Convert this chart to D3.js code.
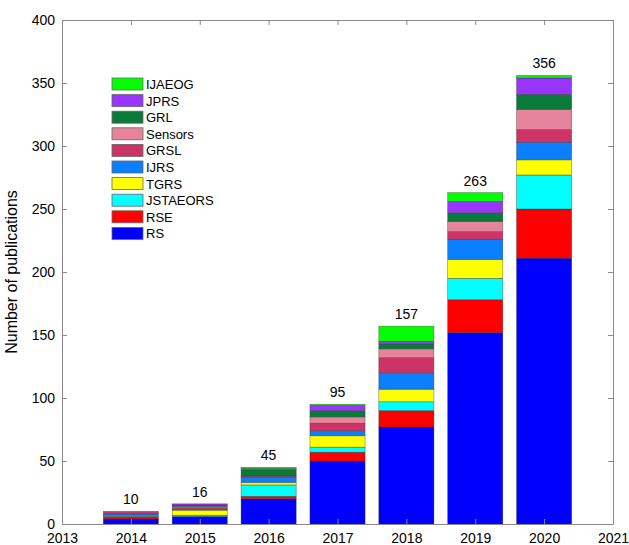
<!DOCTYPE html>
<meta charset="utf-8">
<style>
body { margin: 0; background: #fff; }
text { font-family: "Liberation Sans", Arial, sans-serif; }
</style>
<body>
<script src="https://cdn.jsdelivr.net/npm/d3@7/dist/d3.min.js"></script>
<script>
// data
var years = [2014, 2015, 2016, 2017, 2018, 2019, 2020];
var journals = ["RS", "RSE", "JSTAEORS", "TGRS", "IJRS", "GRSL", "Sensors", "GRL", "JPRS", "IJAEOG"];
var colors = ["#0000ff", "#ff0000", "#00ffff", "#ffff00", "#0a7fff", "#cc3366", "#e6849b", "#0a7a3a", "#9a35ff", "#00ff00"];
var RS       = [4, 6, 20, 50, 77, 152, 211];
var RSE      = [2, 0, 2, 7, 13, 26, 39];
var JSTAEORS = [1, 1, 9, 4, 7, 17, 27];
var TGRS     = [0, 4, 2, 9, 10, 15, 12];
var IJRS     = [1, 1, 4, 4, 13, 16, 14];
var GRSL     = [2, 1, 1, 6, 12, 6, 10];
var Sensors  = [0, 1, 0, 5, 7, 8, 16];
var GRL      = [0, 1, 5, 5, 4, 7, 12];
var JPRS     = [0, 1, 1, 4, 2, 9, 13];
var IJAEOG   = [0, 0, 1, 1, 12, 7, 2];
var series = [RS, RSE, JSTAEORS, TGRS, IJRS, GRSL, Sensors, GRL, JPRS, IJAEOG];
var totals = [10, 16, 45, 95, 157, 263, 356];
var xTicks = [2013, 2014, 2015, 2016, 2017, 2018, 2019, 2020, 2021];
var yTicks = [0, 50, 100, 150, 200, 250, 300, 350, 400];

var margin = {top: 20, right: 16, bottom: 21, left: 62},
    width = 629 - margin.left - margin.right,
    height = 545 - margin.top - margin.bottom;

var x = d3.scaleLinear().domain([2013, 2021]).range([0, width]);
var y = d3.scaleLinear().domain([0, 400]).range([height, 0]);
var barW = (x(2014) - x(2013)) * 0.8;

var table = years.map(function(yr, i) {
  var row = {year: yr};
  journals.forEach(function(j, k) { row[j] = series[k][i]; });
  return row;
});
var stacked = d3.stack().keys(journals)(table);

var svg = d3.select("body").append("svg")
    .attr("width", 629)
    .attr("height", 545)
  .append("g")
    .attr("transform", "translate(" + margin.left + "," + margin.top + ")");

// bars
svg.selectAll(".layer")
    .data(stacked)
  .enter().append("g")
    .attr("fill", function(d, i) { return colors[i]; })
  .selectAll("rect")
    .data(function(d) { return d; })
  .enter().append("rect")
    .attr("x", function(d) { return x(d.data.year) - barW / 2; })
    .attr("width", barW)
    .attr("y", function(d) { return y(d[1]); })
    .attr("height", function(d) { return y(d[0]) - y(d[1]); })
    .attr("stroke", "#333")
    .attr("stroke-opacity", 0.6)
    .attr("stroke-width", 0.6);

// totals
svg.selectAll(".total")
    .data(years)
  .enter().append("text")
    .attr("x", function(d) { return x(d); })
    .attr("y", function(d, i) { return y(totals[i]) - 7; })
    .attr("text-anchor", "middle")
    .style("font-size", "14px")
    .text(function(d, i) { return totals[i]; });

// axes with inward ticks, box on
var axisCol = "#8a8a8a";
var axBottom = svg.append("g")
    .attr("transform", "translate(0," + height + ")")
    .call(d3.axisBottom(x).tickValues(xTicks).tickFormat(d3.format("d")).tickSizeInner(-5).tickSizeOuter(0).tickPadding(9));
var axLeft = svg.append("g")
    .call(d3.axisLeft(y).tickValues(yTicks).tickSizeInner(-5).tickSizeOuter(0).tickPadding(7));
var axTop = svg.append("g")
    .call(d3.axisTop(x).tickValues(xTicks).tickFormat("").tickSizeInner(-5).tickSizeOuter(0));
var axRight = svg.append("g")
    .attr("transform", "translate(" + width + ",0)")
    .call(d3.axisRight(y).tickValues(yTicks).tickFormat("").tickSizeInner(-5).tickSizeOuter(0));
[axBottom, axLeft, axTop, axRight].forEach(function(g) {
  g.selectAll("path, line").attr("stroke", axisCol);
  g.selectAll("text").attr("fill", "#000").style("font-size", "14px")
    .style("font-family", "'Liberation Sans', Arial, sans-serif");
});

svg.append("text")
    .attr("transform", "translate(" + (-45) + "," + (height / 2) + ") rotate(-90)")
    .attr("text-anchor", "middle")
    .style("font-size", "16px")
    .text("Number of publications");

// legend, top entry is the last journal
var legend = svg.append("g")
    .attr("transform", "translate(" + (112 - margin.left) + "," + (78 - margin.top) + ")");
var entries = legend.selectAll("g")
    .data(journals.slice().reverse())
  .enter().append("g")
    .attr("transform", function(d, i) { return "translate(0," + (i * 16.6) + ")"; });
entries.append("rect")
    .attr("width", 31)
    .attr("height", 12)
    .attr("fill", function(d) { return colors[journals.indexOf(d)]; })
    .attr("stroke", "#666")
    .attr("stroke-width", 0.8);
entries.append("text")
    .attr("x", 34)
    .attr("y", 11)
    .style("font-size", "13px")
    .text(function(d) { return d; });
</script>
</body>
